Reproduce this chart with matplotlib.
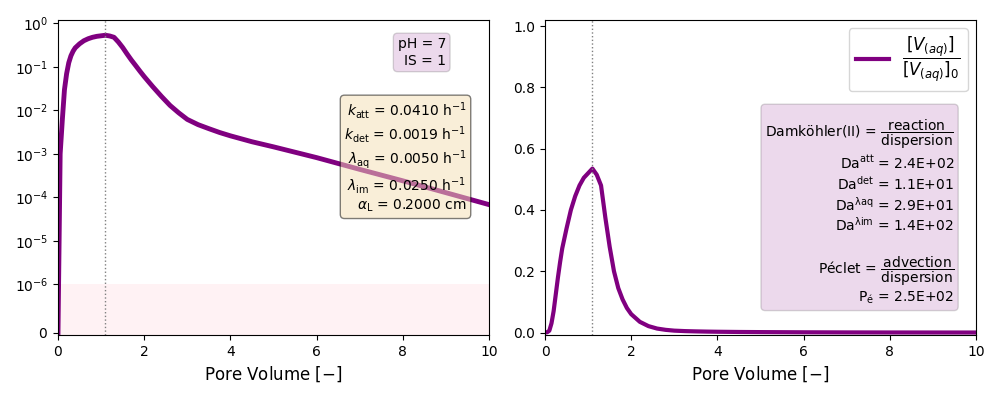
import matplotlib
matplotlib.use('Agg')
import matplotlib.pyplot as plt
import numpy as np

# pore volume and normalised aqueous concentration
pore_volume = [0, 0.05, 0.1, 0.15, 0.2, 0.25, 0.3, 0.35, 0.4, 0.5, 0.6, 0.7, 0.8, 0.9,
               1.0, 1.1, 1.2, 1.3, 1.4, 1.5, 1.6, 1.7, 1.8, 1.9, 2.0, 2.2, 2.4, 2.6,
               2.8, 3.0, 3.25, 3.5, 3.75, 4.0, 4.5, 5.0, 6.0, 7.0, 8.0, 9.0, 10.0]
conc = [0, 0.001, 0.006, 0.03, 0.07, 0.125, 0.18, 0.23, 0.275, 0.34, 0.40, 0.445,
        0.48, 0.505, 0.52, 0.535, 0.515, 0.48, 0.375, 0.28, 0.2, 0.145, 0.108,
        0.08, 0.06, 0.035, 0.021, 0.013, 0.0088, 0.0062, 0.0047, 0.0038, 0.0031,
        0.0026, 0.0019, 0.00145, 0.00082, 0.00044, 0.00024, 0.000128, 0.000068]

params_txt = '\n'.join([
    r'$k_{\mathrm{att}}$ = 0.0410 h$^{-1}$',
    r'$k_{\mathrm{det}}$ = 0.0019 h$^{-1}$',
    r'$\lambda_{\mathrm{aq}}$ = 0.0050 h$^{-1}$',
    r'$\lambda_{\mathrm{im}}$ = 0.0250 h$^{-1}$',
    r'$\alpha_{\mathrm{L}}$ = 0.2000 cm',
])
chem_txt = 'pH = 7\nIS = 1'
dim_txt = '\n'.join([
    r'Damköhler(II) = $\dfrac{\mathrm{reaction}}{\mathrm{dispersion}}$',
    r'Da$^{\mathrm{att}}$ = 2.4E+02',
    r'Da$^{\mathrm{det}}$ = 1.1E+01',
    r'Da$^{\mathrm{\lambda aq}}$ = 2.9E+01',
    r'Da$^{\mathrm{\lambda im}}$ = 1.4E+02',
    '',
    r'Péclet = $\dfrac{\mathrm{advection}}{\mathrm{dispersion}}$',
    r'P$_{\mathrm{é}}$ = 2.5E+02',
])

x = np.array(pore_volume)
y = np.array(conc)
x_peak = x[np.argmax(y)]

fig, (ax1, ax2) = plt.subplots(1, 2, figsize=(10, 4), dpi=100)
fig.subplots_adjust(left=0.058, right=0.976, top=0.95, bottom=0.1625, wspace=0.13)

# left: symlog
ax1.plot(x, y, color='purple', lw=3.5)
ax1.set_yscale('symlog', linthresh=1e-6)
ax1.axhspan(-1e-7, 1e-6, color='pink', alpha=0.2, lw=0)
ax1.axvline(x_peak, color='gray', ls=':', lw=1)
ax1.set_xlim(0, 10)
ax1.set_ylim(-5e-8, 1.2)
ax1.set_xlabel(r'Pore Volume $[-]$', fontsize=12)
ax1.text(0.90, 0.945, chem_txt, transform=ax1.transAxes, ha='right', va='top',
         fontsize=10, multialignment='right',
         bbox=dict(boxstyle='round', facecolor='purple', alpha=0.15))
ax1.text(0.948, 0.745, params_txt, transform=ax1.transAxes, ha='right', va='top',
         fontsize=10, multialignment='right', zorder=5,
         bbox=dict(boxstyle='round', facecolor='wheat', alpha=0.5))

# right: linear
ax2.plot(x, y, color='purple', lw=3,
         label=r'$\dfrac{[V_{(aq)}]}{[V_{(aq)}]_0}$')
ax2.axvline(x_peak, color='gray', ls=':', lw=1)
ax2.set_xlim(0, 10)
ax2.set_ylim(-0.008, 1.02)
ax2.set_xlabel(r'Pore Volume $[-]$', fontsize=12)
ax2.legend(loc='upper right', fontsize=12)
ax2.text(0.949, 0.69, dim_txt, transform=ax2.transAxes, ha='right', va='top',
         fontsize=10, multialignment='right',
         bbox=dict(boxstyle='round', facecolor='purple', alpha=0.15))

plt.savefig('out.png')
plt.close()
